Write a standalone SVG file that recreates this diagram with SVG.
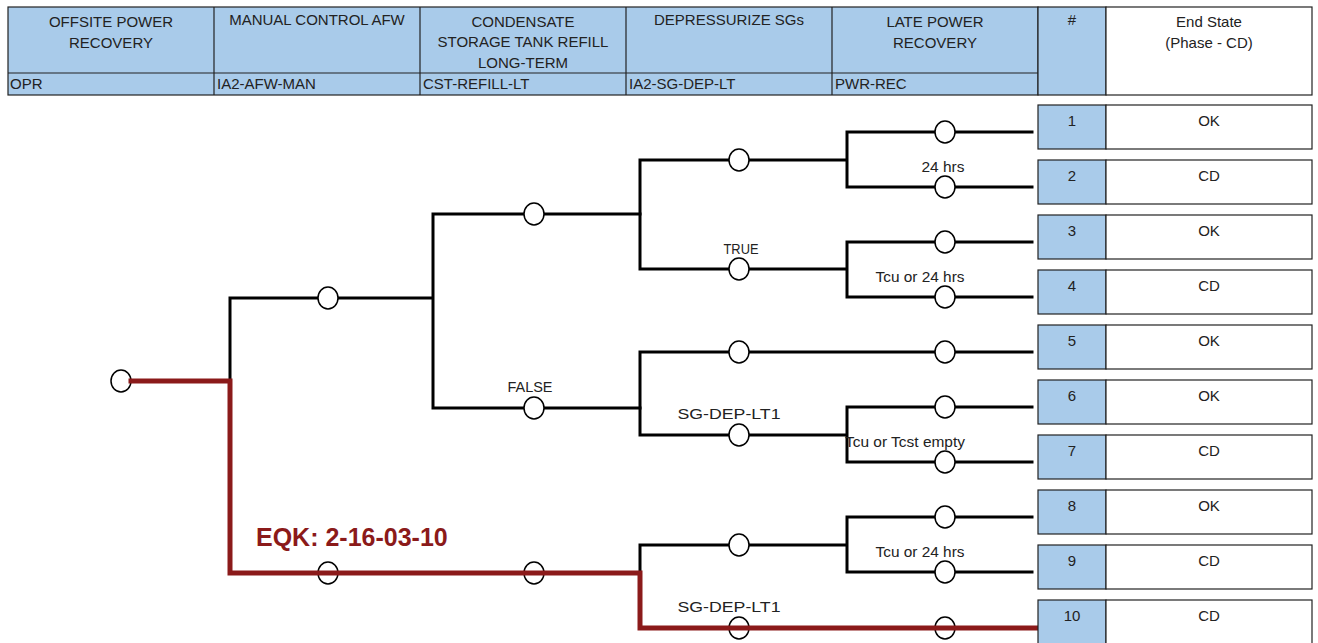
<svg xmlns="http://www.w3.org/2000/svg" width="1318" height="643" viewBox="0 0 1318 643">
<style>
.hdr{fill:#a9cbea;stroke:#222;stroke-width:1.2}
.wh{fill:#fff;stroke:#222;stroke-width:1.2}
.ht{font-family:"Liberation Sans",Arial,sans-serif;font-size:15px;fill:#222;text-anchor:middle}
.hl{font-family:"Liberation Sans",Arial,sans-serif;font-size:15px;fill:#222}
.bt{font-family:"Liberation Sans",Arial,sans-serif;font-size:15px;fill:#222;text-anchor:middle}
.lb{font-family:"Liberation Sans",Arial,sans-serif;font-size:14px;fill:#222;text-anchor:middle}
.ln{stroke:#000;stroke-width:3;fill:none;stroke-linecap:square}
.rd{stroke:#8b1a1a;stroke-width:5;fill:none;stroke-linecap:square}
.nd{fill:#fff;stroke:#000;stroke-width:1.5}
.eqk{font-family:"Liberation Sans",Arial,sans-serif;font-size:25px;font-weight:bold;fill:#8b1a1a}
</style>
<rect width="1318" height="643" fill="#fff"/>
<g id="header">
<rect class="hdr" x="8" y="7" width="1030" height="88"/>
<rect class="hdr" x="1038" y="7" width="68" height="88"/>
<rect class="wh" x="1106" y="7" width="206" height="88"/>
<g stroke="#222" stroke-width="1.2">
<line x1="8" y1="73" x2="1038" y2="73"/>
<line x1="214" y1="7" x2="214" y2="95"/>
<line x1="420" y1="7" x2="420" y2="95"/>
<line x1="626" y1="7" x2="626" y2="95"/>
<line x1="832" y1="7" x2="832" y2="95"/>
</g>
<text class="ht" x="111" y="27">OFFSITE POWER</text>
<text class="ht" x="111" y="48">RECOVERY</text>
<text class="ht" x="317" y="25">MANUAL CONTROL AFW</text>
<text class="ht" x="523" y="27">CONDENSATE</text>
<text class="ht" x="523" y="47">STORAGE TANK REFILL</text>
<text class="ht" x="523" y="68">LONG-TERM</text>
<text class="ht" x="729" y="25">DEPRESSURIZE SGs</text>
<text class="ht" x="935" y="27">LATE POWER</text>
<text class="ht" x="935" y="48">RECOVERY</text>
<text class="ht" x="1072" y="25">#</text>
<text class="ht" x="1209" y="27">End State</text>
<text class="ht" x="1209" y="48">(Phase - CD)</text>
<text class="hl" x="10" y="89">OPR</text>
<text class="hl" x="217" y="89">IA2-AFW-MAN</text>
<text class="hl" x="423" y="89">CST-REFILL-LT</text>
<text class="hl" x="629" y="89">IA2-SG-DEP-LT</text>
<text class="hl" x="835" y="89">PWR-REC</text>
</g>
<g id="connectors">
<path class="ln" d="M230 381 V298 H433 M433 214 V408 M433 214 H640 M433 408 H640"/>
<path class="ln" d="M640 160 V269 M640 160 H847 M640 269 H847 M847 132 V187 M847 132 H1032 M847 187 H1032 M847 242 V297 M847 242 H1032 M847 297 H1032"/>
<path class="ln" d="M640 352 V435 M640 352 H1032 M640 435 H847 M847 407 V462 M847 407 H1032 M847 462 H1032"/>
<path class="ln" d="M640 573 V545 H847 M847 517 V572 M847 517 H1032 M847 572 H1032"/>
</g>
<g id="nodes">
<g id="n-init"><ellipse class="nd" cx="121" cy="381" rx="10" ry="11"/></g>
<g id="n-opr-ok"><ellipse class="nd" cx="328" cy="298" rx="10" ry="11"/></g>
<g id="n-afw-t"><ellipse class="nd" cx="534" cy="214" rx="10" ry="11"/></g>
<g id="n-afw-f"><ellipse class="nd" cx="534" cy="408" rx="10" ry="11"/><text class="lb" x="530" y="392" textLength="45" lengthAdjust="spacingAndGlyphs">FALSE</text></g>
<g id="n-cst-1"><ellipse class="nd" cx="739" cy="160" rx="10" ry="11"/></g>
<g id="n-cst-2"><ellipse class="nd" cx="739" cy="269" rx="10" ry="11"/><text class="lb" x="741" y="254" textLength="35" lengthAdjust="spacingAndGlyphs">TRUE</text></g>
<g id="n-cst-3"><ellipse class="nd" cx="739" cy="352" rx="10" ry="11"/></g>
<g id="n-cst-4"><ellipse class="nd" cx="739" cy="435" rx="10" ry="11"/><text class="lb" x="729" y="419" textLength="103" lengthAdjust="spacingAndGlyphs">SG-DEP-LT1</text></g>
<g id="n-cst-5"><ellipse class="nd" cx="739" cy="545" rx="10" ry="11"/></g>
<g id="n-cst-6"><ellipse class="nd" cx="739" cy="628" rx="10" ry="11"/><text class="lb" x="729" y="612" textLength="103" lengthAdjust="spacingAndGlyphs">SG-DEP-LT1</text></g>
<g id="n-pwr-1"><ellipse class="nd" cx="945" cy="132" rx="10" ry="11"/></g>
<g id="n-pwr-2"><ellipse class="nd" cx="945" cy="187" rx="10" ry="11"/><text class="lb" x="943" y="172" textLength="43" lengthAdjust="spacingAndGlyphs">24 hrs</text></g>
<g id="n-pwr-3"><ellipse class="nd" cx="945" cy="242" rx="10" ry="11"/></g>
<g id="n-pwr-4"><ellipse class="nd" cx="945" cy="297" rx="10" ry="11"/><text class="lb" x="920" y="282" textLength="89" lengthAdjust="spacingAndGlyphs">Tcu or 24 hrs</text></g>
<g id="n-pwr-5"><ellipse class="nd" cx="945" cy="352" rx="10" ry="11"/></g>
<g id="n-pwr-6"><ellipse class="nd" cx="945" cy="407" rx="10" ry="11"/></g>
<g id="n-pwr-7"><ellipse class="nd" cx="945" cy="462" rx="10" ry="11"/><text class="lb" x="905" y="447" textLength="120" lengthAdjust="spacingAndGlyphs">Tcu or Tcst empty</text></g>
<g id="n-pwr-8"><ellipse class="nd" cx="945" cy="517" rx="10" ry="11"/></g>
<g id="n-pwr-9"><ellipse class="nd" cx="945" cy="572" rx="10" ry="11"/><text class="lb" x="920" y="557" textLength="89" lengthAdjust="spacingAndGlyphs">Tcu or 24 hrs</text></g>
<g id="n-pwr-10"><ellipse class="nd" cx="945" cy="628" rx="10" ry="11"/></g>
<g id="n-opr-f"><ellipse class="nd" cx="328" cy="573" rx="10" ry="11"/></g>
<g id="n-afw-f2"><ellipse class="nd" cx="534" cy="573" rx="10" ry="11"/></g>
</g>
<g id="highlight-path">
<path class="rd" d="M131 381 H230 V573 H640 V628 H1036" stroke-linejoin="miter"/>
<text class="eqk" x="256" y="546">EQK: 2-16-03-10</text>
</g>
<g id="end-states">
<g id="es-1"><rect class="hdr" x="1038" y="105" width="68" height="44"/><rect class="wh" x="1106" y="105" width="206" height="44"/><text class="bt" x="1072" y="126">1</text><text class="bt" x="1209" y="126">OK</text></g>
<g id="es-2"><rect class="hdr" x="1038" y="160" width="68" height="44"/><rect class="wh" x="1106" y="160" width="206" height="44"/><text class="bt" x="1072" y="181">2</text><text class="bt" x="1209" y="181">CD</text></g>
<g id="es-3"><rect class="hdr" x="1038" y="215" width="68" height="44"/><rect class="wh" x="1106" y="215" width="206" height="44"/><text class="bt" x="1072" y="236">3</text><text class="bt" x="1209" y="236">OK</text></g>
<g id="es-4"><rect class="hdr" x="1038" y="270" width="68" height="44"/><rect class="wh" x="1106" y="270" width="206" height="44"/><text class="bt" x="1072" y="291">4</text><text class="bt" x="1209" y="291">CD</text></g>
<g id="es-5"><rect class="hdr" x="1038" y="325" width="68" height="44"/><rect class="wh" x="1106" y="325" width="206" height="44"/><text class="bt" x="1072" y="346">5</text><text class="bt" x="1209" y="346">OK</text></g>
<g id="es-6"><rect class="hdr" x="1038" y="380" width="68" height="44"/><rect class="wh" x="1106" y="380" width="206" height="44"/><text class="bt" x="1072" y="401">6</text><text class="bt" x="1209" y="401">OK</text></g>
<g id="es-7"><rect class="hdr" x="1038" y="435" width="68" height="44"/><rect class="wh" x="1106" y="435" width="206" height="44"/><text class="bt" x="1072" y="456">7</text><text class="bt" x="1209" y="456">CD</text></g>
<g id="es-8"><rect class="hdr" x="1038" y="490" width="68" height="44"/><rect class="wh" x="1106" y="490" width="206" height="44"/><text class="bt" x="1072" y="511">8</text><text class="bt" x="1209" y="511">OK</text></g>
<g id="es-9"><rect class="hdr" x="1038" y="545" width="68" height="44"/><rect class="wh" x="1106" y="545" width="206" height="44"/><text class="bt" x="1072" y="566">9</text><text class="bt" x="1209" y="566">CD</text></g>
<g id="es-10"><rect class="hdr" x="1038" y="600" width="68" height="44"/><rect class="wh" x="1106" y="600" width="206" height="44"/><text class="bt" x="1072" y="621">10</text><text class="bt" x="1209" y="621">CD</text></g>
</g>
</svg>
